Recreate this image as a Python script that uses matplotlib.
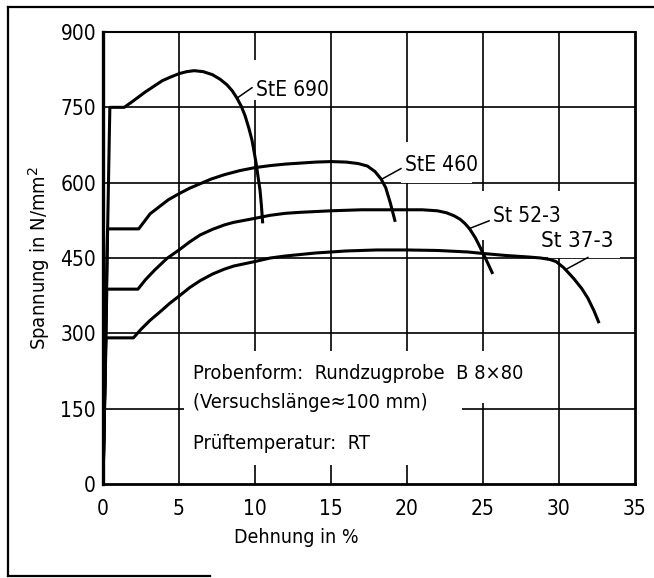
import matplotlib
matplotlib.use("Agg")
import matplotlib.pyplot as plt
from matplotlib.patches import Rectangle
from matplotlib.lines import Line2D
from matplotlib import font_manager as fm

# ---- data ----
ste690_x = [0, 0.45, 1.4, 2.0, 2.8, 3.4, 3.9, 4.5, 5.0, 5.5, 6.0, 6.6, 7.2, 7.7, 8.15, 8.5, 8.8, 9.1,
            9.35, 9.6, 9.8, 9.95, 10.07, 10.2, 10.33, 10.42, 10.5]
ste690_y = [0, 750, 750, 763, 781, 793, 803, 811, 817, 821, 823, 821, 815, 806, 795, 783, 769, 752,
            733, 708, 685, 660, 639, 612, 585, 555, 522]

ste460_x = [0, 0.3, 2.35, 2.7, 3.1, 3.7, 4.3, 5.0, 5.7, 6.4, 7.1, 8.0, 9.0, 10.0, 11.0, 12.0, 13.0,
            14.0, 15.0, 16.0, 16.8, 17.4, 17.9, 18.3, 18.6, 18.9, 19.2]
ste460_y = [0, 508, 508, 522, 538, 552, 566, 578, 589, 598, 607, 616, 624, 630, 634, 637, 639,
            641, 642, 641, 638, 633, 622, 607, 590, 560, 525]

st52_x = [0, 0.25, 2.3, 2.8, 3.4, 4.2, 5.0, 5.7, 6.4, 7.2, 8.0, 8.6, 10.0, 11.0, 12.0, 13.0, 15.0,
          17.0, 19.0, 21.0, 22.0, 22.6, 23.1, 23.5, 23.8, 24.1, 24.5, 24.8, 25.2, 25.6]
st52_y = [0, 388, 388, 407, 426, 449, 466, 482, 496, 507, 516, 521, 529, 535, 539, 541, 544,
          546, 546, 546, 544, 540, 534, 527, 519, 509, 490, 472, 447, 421]

st37_x = [0, 0.2, 2.0, 2.5, 3.1, 3.8, 4.4, 5.0, 5.7, 6.4, 7.2, 8.0, 8.6, 10.0, 11.0, 12.0, 13.0,
          14.0, 15.0, 16.0, 18.0, 20.0, 22.0, 24.0, 25.0, 26.5, 28.0, 28.8, 29.4, 29.8, 30.3,
          30.7, 31.0, 31.5, 31.9, 32.3, 32.6]
st37_y = [0, 291, 291, 308, 326, 344, 360, 374, 391, 405, 418, 428, 434, 443, 450, 454, 457,
          460, 462, 464, 466, 466, 465, 462, 459, 455, 452, 450, 447, 443, 431,
          418, 408, 389, 370, 345, 323]

curve_names = ["StE 690", "StE 460", "St 52-3", "St 37-3"]
x_ticks = [0, 5, 10, 15, 20, 25, 30, 35]
y_ticks = [0, 150, 300, 450, 600, 750, 900]
x_label = "Dehnung in %"
y_label = "Spannung in N/mm$^2$"
note_lines = ["Probenform:  Rundzugprobe  B 8\u00d780",
              "(Versuchsl\u00e4nge\u2248100 mm)",
              "Pr\u00fcftemperatur:  RT"]

COND = fm.FontProperties(family="DejaVu Sans", stretch="condensed")

fig = plt.figure(figsize=(6.54, 5.78), dpi=100)
ax = fig.add_axes([103 / 654, 1 - 484 / 578, 532 / 654, 452 / 578])
ax.set_xlim(0, 35)
ax.set_ylim(0, 900)

# grid
for xv in x_ticks[1:-1]:
    ax.axvline(xv, color="black", lw=1.2, zorder=1)
for yv in y_ticks[1:-1]:
    ax.axhline(yv, color="black", lw=1.2, zorder=1)

# white gaps in the grid (label areas)
gaps = [
    (9.6, 765, 4.6, 80),     # StE 690
    (19.6, 600, 4.7, 80),    # StE 460
    (24.5, 485, 9.5, 99),    # St 52-3 / St 37-3
    (29.3, 450, 4.7, 35),
    (5.3, 38, 18.3, 226),    # note box
    (24.5, 162, 1.0, 102),
]
for gx, gy, gw, gh in gaps:
    ax.add_patch(Rectangle((gx, gy), gw, gh, facecolor="white", edgecolor="none", zorder=2))

# curves
for xs, ys in [(ste690_x, ste690_y), (ste460_x, ste460_y), (st52_x, st52_y), (st37_x, st37_y)]:
    ax.plot(xs, ys, color="black", lw=2.2, zorder=3, solid_joinstyle="round")

# curve labels with leader lines
lab_pos = [(12.45, 784), (22.3, 636), (27.9, 534), (31.2, 484)]
lab_size = [15, 15, 15, 16]
lead = [((8.8, 768), (9.8, 789)), ((18.4, 608), (19.6, 628)),
        ((24.05, 508), (25.4, 524)), ((30.5, 428), (31.9, 451))]
for name, (tx, ty), fs, (p0, p1) in zip(curve_names, lab_pos, lab_size, lead):
    ax.text(tx, ty, name, ha="center", va="center", fontproperties=COND, fontsize=fs, zorder=4)
    ax.plot([p0[0], p1[0]], [p0[1], p1[1]], color="black", lw=1.1, zorder=3)

# note text
for line, yv in zip(note_lines, [221, 162, 81]):
    ax.text(5.9, yv, line, ha="left", va="center", fontproperties=COND, fontsize=14.4, zorder=4)

ax.set_xticks(x_ticks)
ax.set_yticks(y_ticks)
ax.set_xticklabels([str(v) for v in x_ticks])
ax.set_yticklabels([str(v) for v in y_ticks])
for t in ax.get_xticklabels() + ax.get_yticklabels():
    t.set_fontproperties(COND)
    t.set_fontsize(15)
ax.tick_params(length=0)
ax.tick_params(axis="x", pad=11)
ax.tick_params(axis="y", pad=5)
ax.set_xlabel(x_label, fontproperties=COND, fontsize=14)
ax.set_ylabel(y_label, fontproperties=COND, fontsize=14.5)
ax.xaxis.set_label_coords((296 - 103) / 532, (484 - 528) / 452)
ax.yaxis.set_label_coords((52 - 103) / 532, 0.5)

for s, w in [("left", 2.4), ("bottom", 2.0), ("right", 2.0), ("top", 1.5)]:
    ax.spines[s].set_linewidth(w)

# outer frame of the scanned figure
fig.add_artist(Line2D([8 / 654, 8 / 654], [1 - 576 / 578, 1 - 7 / 578], color="black", lw=1.6))
fig.add_artist(Line2D([8 / 654, 1.0], [1 - 7 / 578, 1 - 7 / 578], color="black", lw=1.6))
fig.add_artist(Line2D([8 / 654, 210 / 654], [1 - 576 / 578, 1 - 576 / 578], color="black", lw=1.6))

fig.savefig("out.png", dpi=100)
